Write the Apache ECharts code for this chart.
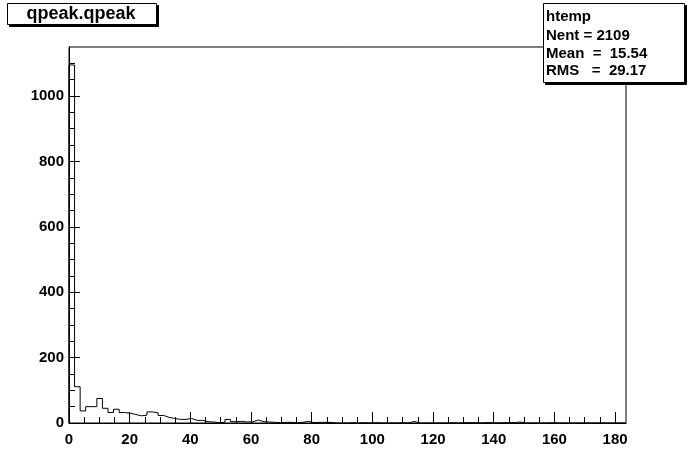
<!DOCTYPE html>
<html><head><meta charset="utf-8">
<script src="https://cdn.jsdelivr.net/npm/echarts@6/dist/echarts.min.js"></script>
<style>html,body{margin:0;padding:0;background:#fff}#c{width:696px;height:472px}</style>
</head><body><div id="c"></div>
<script>
// histogram bin contents (100 bins of width 1.836 from 0 to 183.6)
const binCounts = [
  1095, 111, 37, 50, 50, 75, 45, 32, 42, 32,
  30, 26, 22, 24, 34, 31, 23, 17, 14, 11,
  11, 14, 8, 8, 4, 3, 1, 2, 11, 4,
  5, 3, 4, 9, 4, 3, 2, 1, 2, 2,
  1, 2, 5, 1, 2, 2, 2, 0, 0, 0,
  1, 0, 1, 0, 1, 0, 0, 0, 0, 1,
  0, 5, 0, 0, 0, 0, 0, 0, 1, 0,
  1, 1, 1, 0, 1, 1, 0, 1, 1, 1,
  3, 0, 0, 0, 0, 0, 1, 0, 0, 0,
  0, 0, 0, 0, 0, 0, 0, 0, 0, 0
];
const binWidth = 1.836;
const xMax = 183.6;
const yMax = 1150;
const xMajorTicks = [0, 20, 40, 60, 80, 100, 120, 140, 160, 180];
const xMinorTicks = [5, 10, 15, 25, 30, 35, 45, 50, 55, 65, 70, 75, 85, 90, 95, 105, 110, 115, 125, 130, 135, 145, 150, 155, 165, 170, 175];
const yMajorTicks = [0, 200, 400, 600, 800, 1000];
const yMinorTicks = [50, 100, 150, 250, 300, 350, 450, 500, 550, 650, 700, 750, 850, 900, 950, 1050, 1100];
const titleText = 'qpeak.qpeak';
const statsLines = ['htemp', 'Nent = 2109', 'Mean  =  15.54', 'RMS   =  29.17'];

const outline = [[0, 0]];
binCounts.forEach(function (v, k) {
  outline.push([k * binWidth, v]);
  outline.push([(k + 1) * binWidth, v]);
});
outline.push([binCounts.length * binWidth, 0]);

const FONT = '"Liberation Sans", Arial, Helvetica, sans-serif';
const black = '#000';

function majorAxis(pos, ticks, max, margin) {
  return {
    type: 'value', min: 0, max: max, position: pos,
    axisLine: { show: true, onZero: false, lineStyle: { color: black, width: 1 } },
    splitLine: { show: false },
    axisTick: { show: true, inside: true, length: 11, customValues: ticks, lineStyle: { color: black, width: 1 } },
    axisLabel: { show: true, customValues: ticks, margin: margin, color: black, fontFamily: FONT, fontWeight: 'bold', fontSize: 15,
      formatter: function (v) { return String(v); } }
  };
}
function minorAxis(pos, ticks, max) {
  return {
    type: 'value', min: 0, max: max, position: pos, offset: 0,
    axisLine: { show: false },
    splitLine: { show: false },
    axisTick: { show: true, inside: true, length: 6, customValues: ticks, lineStyle: { color: black, width: 1 } },
    axisLabel: { show: false }
  };
}

const graphics = [
  { type: 'rect', shape: { x: 9.5, y: 5.5, width: 149, height: 21 }, style: { fill: black, stroke: black, lineWidth: 1 }, z: 10 },
  { type: 'rect', shape: { x: 7.5, y: 3.5, width: 149, height: 21 }, style: { fill: '#fff', stroke: black, lineWidth: 1 }, z: 11 },
  { type: 'text', x: 81, y: 14, style: { text: titleText, font: 'bold 18px ' + FONT, fill: black, align: 'center', verticalAlign: 'middle' }, z: 12 },
  { type: 'rect', shape: { x: 545.5, y: 5.5, width: 141, height: 79 }, style: { fill: black, stroke: black, lineWidth: 1 }, z: 10 },
  { type: 'rect', shape: { x: 543.5, y: 3.5, width: 141, height: 79 }, style: { fill: '#fff', stroke: black, lineWidth: 1 }, z: 11 }
];
const statsY = [17, 36, 54, 71];
statsLines.forEach(function (t, i) {
  graphics.push({ type: 'text', x: 546, y: statsY[i], style: { text: t, font: 'bold 15px ' + FONT, fill: black, align: 'left', verticalAlign: 'middle' }, z: 12 });
});

const chart = echarts.init(document.getElementById('c'), null, { renderer: 'canvas' });
chart.setOption({
  animation: false,
  backgroundColor: '#fff',
  grid: { left: 69, right: 70, top: 47, bottom: 49, show: true, borderColor: black, borderWidth: 1, backgroundColor: 'transparent', containLabel: false },
  xAxis: [majorAxis('bottom', xMajorTicks, xMax, 9), minorAxis('bottom', xMinorTicks, xMax)],
  yAxis: [majorAxis('left', yMajorTicks, yMax, 5), minorAxis('left', yMinorTicks, yMax)],
  series: [{
    type: 'line', xAxisIndex: 0, yAxisIndex: 0, data: outline,
    showSymbol: false, symbol: 'none', clip: true,
    lineStyle: { color: black, width: 1 }, silent: true
  }],
  graphic: graphics
});
</script></body></html>
